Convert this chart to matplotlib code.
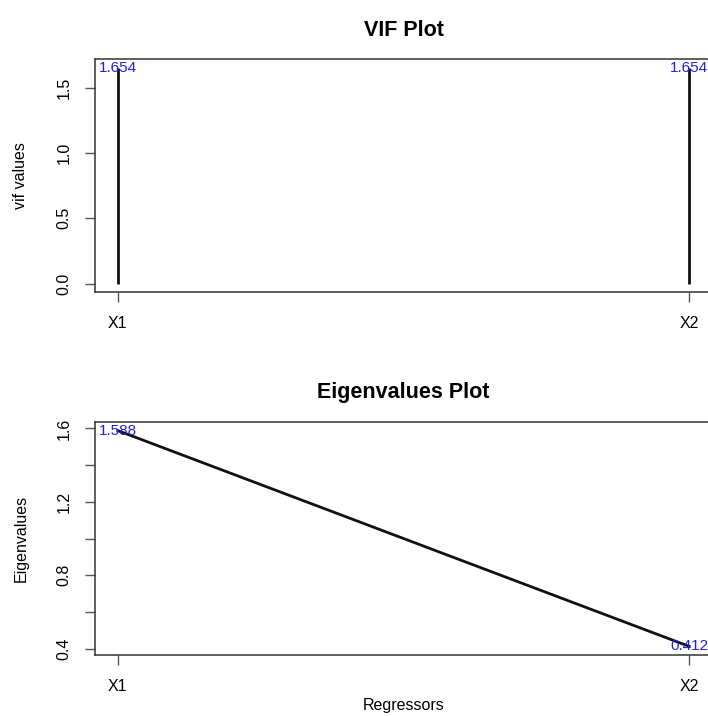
import matplotlib
matplotlib.use("Agg")
import matplotlib.pyplot as plt

plt.rcParams['font.family'] = ['Liberation Sans', 'DejaVu Sans']

# data
regressors = ["X1", "X2"]
vif_values = [1.654, 1.654]
eigenvalues = [1.588, 0.412]
vif_labels = ["1.654", "1.654"]
eig_labels = ["1.588", "0.412"]

fig = plt.figure(figsize=(7.08, 7.16), dpi=100)
ax1 = fig.add_axes([0.1342, 0.592, 0.8715, 0.3254])
ax2 = fig.add_axes([0.1342, 0.0852, 0.8715, 0.3254])

xs = [1, 2]
spine_col = "#333333"

def r_style(ax):
    for s in ax.spines.values():
        s.set_color(spine_col)
        s.set_linewidth(1.1)
    ax.tick_params(axis="both", direction="out", length=7, width=1, color="#555555",
                   labelsize=11.5)
    ax.tick_params(axis="y", pad=10)
    ax.tick_params(axis="x", pad=10)
    ax.set_xlim(0.96, 2.04)
    ax.set_xticks(xs)
    ax.set_xticklabels(regressors)
    for lab in ax.get_yticklabels():
        lab.set_rotation(90)
        lab.set_va("center")

# VIF plot (type = "h")
ax1.vlines(xs, 0, vif_values, color="#111111", lw=2)
for x, v, t in zip(xs, vif_values, vif_labels):
    ax1.text(x, v, t, color="#2222dd", fontsize=11, ha="center", va="center")
ax1.set_ylim(-0.066, 1.72)
ax1.set_yticks([0.0, 0.5, 1.0, 1.5])
ax1.set_yticklabels(["0.0", "0.5", "1.0", "1.5"])
r_style(ax1)
ax1.set_title("VIF Plot", fontsize=15.5, fontweight="bold", pad=17)
ax1.set_ylabel("vif values", fontsize=11.5)
ax1.yaxis.set_label_coords(-0.108, 0.5)

# Eigenvalues plot (type = "l")
ax2.plot(xs, eigenvalues, color="#111111", lw=2)
for x, v, t in zip(xs, eigenvalues, eig_labels):
    ax2.text(x, v, t, color="#2222dd", fontsize=11, ha="center", va="center")
ax2.set_ylim(0.365, 1.635)
ax2.set_yticks([0.4, 0.6, 0.8, 1.0, 1.2, 1.4, 1.6])
ax2.set_yticklabels(["0.4", "", "0.8", "", "1.2", "", "1.6"])
r_style(ax2)
ax2.set_title("Eigenvalues Plot", fontsize=15.5, fontweight="bold", pad=17)
ax2.set_ylabel("Eigenvalues", fontsize=11.5)
ax2.yaxis.set_label_coords(-0.108, 0.5)
ax2.set_xlabel("Regressors", fontsize=11.5, labelpad=3)

fig.savefig("out.png", dpi=100)
